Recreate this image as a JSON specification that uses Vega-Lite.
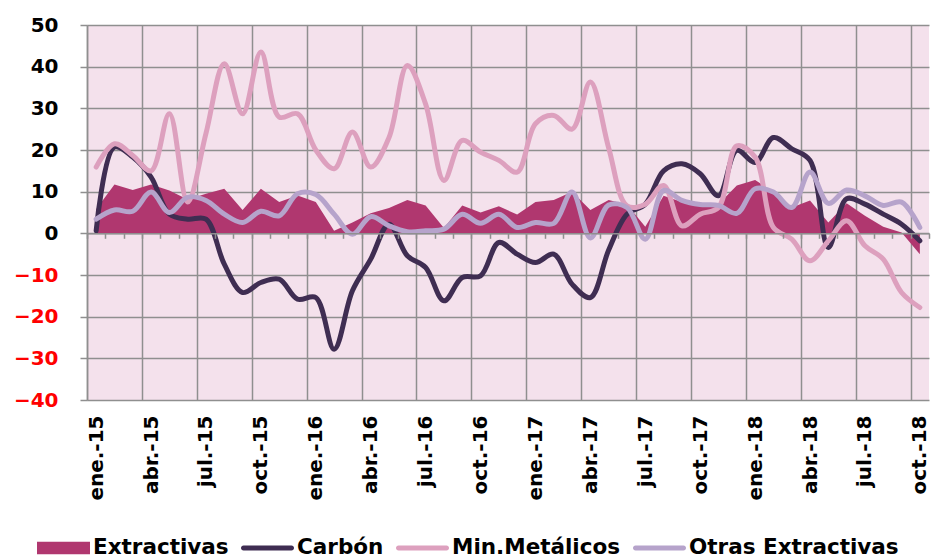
{
  "$schema": "https://vega.github.io/schema/vega-lite/v6.json",
  "autosize": "none",
  "width": 842,
  "height": 375,
  "padding": {"left": 87, "top": 25, "right": 10, "bottom": 159},
  "background": "white",
  "config": {
    "view": {"fill": "#F4E1EC", "stroke": null},
    "font": "DejaVu Sans",
    "axisY": {
      "title": null, "values": [-40,-30,-20,-10,0,10,20,30,40,50],
      "labelFont": "DejaVu Sans", "labelFontWeight": "bold", "labelFontSize": 20,
      "labelPadding": 22, "tickSize": 7, "tickColor": "#8F8F8F", "tickWidth": 1.5,
      "domain": true, "domainColor": "#8F8F8F", "domainWidth": 1.5,
      "grid": true, "gridColor": "#8F8F8F", "gridWidth": 1.5, "gridOpacity": 1,
      "labelFlush": false, "labelOverlap": false
    },
    "legend": {
      "title": null, "orient": "none", "legendX": -50, "legendY": 496.5, "direction": "horizontal", "columns": 4,
      "padding": 0, "columnPadding": 12, "labelOffset": 3, "symbolSize": 2809, "symbolStrokeWidth": 0,
      "labelFont": "DejaVu Sans", "labelFontWeight": "bold", "labelFontSize": 21.5, "labelColor": "#000000", "labelLimit": 400
    }
  },
  "data": {"values": [
    {"i":0,"serie":"Extractivas","valor":5.8},{"i":1,"serie":"Extractivas","valor":11.7},{"i":2,"serie":"Extractivas","valor":10.4},{"i":3,"serie":"Extractivas","valor":11.7},{"i":4,"serie":"Extractivas","valor":10.3},{"i":5,"serie":"Extractivas","valor":8.1},{"i":6,"serie":"Extractivas","valor":9.5},{"i":7,"serie":"Extractivas","valor":10.7},{"i":8,"serie":"Extractivas","valor":5.6},{"i":9,"serie":"Extractivas","valor":10.7},{"i":10,"serie":"Extractivas","valor":7.5},{"i":11,"serie":"Extractivas","valor":9.1},{"i":12,"serie":"Extractivas","valor":7.5},{"i":13,"serie":"Extractivas","valor":0.6},{"i":14,"serie":"Extractivas","valor":2.6},{"i":15,"serie":"Extractivas","valor":4.8},{"i":16,"serie":"Extractivas","valor":6.1},{"i":17,"serie":"Extractivas","valor":8.0},{"i":18,"serie":"Extractivas","valor":6.7},{"i":19,"serie":"Extractivas","valor":1.3},{"i":20,"serie":"Extractivas","valor":6.7},{"i":21,"serie":"Extractivas","valor":5.0},{"i":22,"serie":"Extractivas","valor":6.5},{"i":23,"serie":"Extractivas","valor":4.5},{"i":24,"serie":"Extractivas","valor":7.5},{"i":25,"serie":"Extractivas","valor":8.0},{"i":26,"serie":"Extractivas","valor":10.0},{"i":27,"serie":"Extractivas","valor":5.6},{"i":28,"serie":"Extractivas","valor":8.0},{"i":29,"serie":"Extractivas","valor":6.9},{"i":30,"serie":"Extractivas","valor":1.6},{"i":31,"serie":"Extractivas","valor":9.0},{"i":32,"serie":"Extractivas","valor":7.5},{"i":33,"serie":"Extractivas","valor":6.9},{"i":34,"serie":"Extractivas","valor":7.0},{"i":35,"serie":"Extractivas","valor":11.5},{"i":36,"serie":"Extractivas","valor":12.8},{"i":37,"serie":"Extractivas","valor":9.9},{"i":38,"serie":"Extractivas","valor":6.2},{"i":39,"serie":"Extractivas","valor":7.9},{"i":40,"serie":"Extractivas","valor":2.6},{"i":41,"serie":"Extractivas","valor":7.2},{"i":42,"serie":"Extractivas","valor":4.2},{"i":43,"serie":"Extractivas","valor":1.6},{"i":44,"serie":"Extractivas","valor":0.2},{"i":45,"serie":"Extractivas","valor":-5.0},
    {"i":0,"serie":"Carbón","valor":0.6},{"i":1,"serie":"Carbón","valor":20.7},{"i":2,"serie":"Carbón","valor":18.3},{"i":3,"serie":"Carbón","valor":13.5},{"i":4,"serie":"Carbón","valor":4.6},{"i":5,"serie":"Carbón","valor":3.4},{"i":6,"serie":"Carbón","valor":3.4},{"i":7,"serie":"Carbón","valor":-7.4},{"i":8,"serie":"Carbón","valor":-14.2},{"i":9,"serie":"Carbón","valor":-11.8},{"i":10,"serie":"Carbón","valor":-11.0},{"i":11,"serie":"Carbón","valor":-15.8},{"i":12,"serie":"Carbón","valor":-15.4},{"i":13,"serie":"Carbón","valor":-27.8},{"i":14,"serie":"Carbón","valor":-13.8},{"i":15,"serie":"Carbón","valor":-6.2},{"i":16,"serie":"Carbón","valor":2.2},{"i":17,"serie":"Carbón","valor":-5.4},{"i":18,"serie":"Carbón","valor":-8.2},{"i":19,"serie":"Carbón","valor":-16.2},{"i":20,"serie":"Carbón","valor":-10.6},{"i":21,"serie":"Carbón","valor":-10.2},{"i":22,"serie":"Carbón","valor":-2.2},{"i":23,"serie":"Carbón","valor":-5.0},{"i":24,"serie":"Carbón","valor":-7.0},{"i":25,"serie":"Carbón","valor":-5.0},{"i":26,"serie":"Carbón","valor":-12.2},{"i":27,"serie":"Carbón","valor":-15.4},{"i":28,"serie":"Carbón","valor":-4.0},{"i":29,"serie":"Carbón","valor":4.6},{"i":30,"serie":"Carbón","valor":7.0},{"i":31,"serie":"Carbón","valor":15.0},{"i":32,"serie":"Carbón","valor":16.7},{"i":33,"serie":"Carbón","valor":14.3},{"i":34,"serie":"Carbón","valor":9.0},{"i":35,"serie":"Carbón","valor":19.9},{"i":36,"serie":"Carbón","valor":17.0},{"i":37,"serie":"Carbón","valor":23.0},{"i":38,"serie":"Carbón","valor":20.3},{"i":39,"serie":"Carbón","valor":17.5},{"i":40,"serie":"Carbón","valor":-3.4},{"i":41,"serie":"Carbón","valor":8.3},{"i":42,"serie":"Carbón","valor":7.0},{"i":43,"serie":"Carbón","valor":4.6},{"i":44,"serie":"Carbón","valor":2.2},{"i":45,"serie":"Carbón","valor":-1.8},
    {"i":0,"serie":"Min.Metálicos","valor":15.9},{"i":1,"serie":"Min.Metálicos","valor":21.5},{"i":2,"serie":"Min.Metálicos","valor":18.7},{"i":3,"serie":"Min.Metálicos","valor":15.0},{"i":4,"serie":"Min.Metálicos","valor":28.7},{"i":5,"serie":"Min.Metálicos","valor":7.5},{"i":6,"serie":"Min.Metálicos","valor":24.0},{"i":7,"serie":"Min.Metálicos","valor":40.7},{"i":8,"serie":"Min.Metálicos","valor":28.7},{"i":9,"serie":"Min.Metálicos","valor":43.5},{"i":10,"serie":"Min.Metálicos","valor":27.9},{"i":11,"serie":"Min.Metálicos","valor":28.7},{"i":12,"serie":"Min.Metálicos","valor":20.0},{"i":13,"serie":"Min.Metálicos","valor":15.5},{"i":14,"serie":"Min.Metálicos","valor":24.3},{"i":15,"serie":"Min.Metálicos","valor":15.9},{"i":16,"serie":"Min.Metálicos","valor":23.0},{"i":17,"serie":"Min.Metálicos","valor":40.3},{"i":18,"serie":"Min.Metálicos","valor":31.0},{"i":19,"serie":"Min.Metálicos","valor":12.7},{"i":20,"serie":"Min.Metálicos","valor":22.3},{"i":21,"serie":"Min.Metálicos","valor":19.5},{"i":22,"serie":"Min.Metálicos","valor":17.5},{"i":23,"serie":"Min.Metálicos","valor":14.7},{"i":24,"serie":"Min.Metálicos","valor":26.3},{"i":25,"serie":"Min.Metálicos","valor":28.3},{"i":26,"serie":"Min.Metálicos","valor":25.0},{"i":27,"serie":"Min.Metálicos","valor":36.3},{"i":28,"serie":"Min.Metálicos","valor":20.5},{"i":29,"serie":"Min.Metálicos","valor":6.6},{"i":30,"serie":"Min.Metálicos","valor":7.0},{"i":31,"serie":"Min.Metálicos","valor":11.5},{"i":32,"serie":"Min.Metálicos","valor":1.8},{"i":33,"serie":"Min.Metálicos","valor":4.6},{"i":34,"serie":"Min.Metálicos","valor":6.2},{"i":35,"serie":"Min.Metálicos","valor":21.0},{"i":36,"serie":"Min.Metálicos","valor":18.3},{"i":37,"serie":"Min.Metálicos","valor":1.4},{"i":38,"serie":"Min.Metálicos","valor":-1.4},{"i":39,"serie":"Min.Metálicos","valor":-6.6},{"i":40,"serie":"Min.Metálicos","valor":-1.8},{"i":41,"serie":"Min.Metálicos","valor":3.0},{"i":42,"serie":"Min.Metálicos","valor":-3.0},{"i":43,"serie":"Min.Metálicos","valor":-6.2},{"i":44,"serie":"Min.Metálicos","valor":-14.2},{"i":45,"serie":"Min.Metálicos","valor":-17.8},
    {"i":0,"serie":"Otras Extractivas","valor":3.4},{"i":1,"serie":"Otras Extractivas","valor":5.6},{"i":2,"serie":"Otras Extractivas","valor":5.3},{"i":3,"serie":"Otras Extractivas","valor":9.9},{"i":4,"serie":"Otras Extractivas","valor":5.0},{"i":5,"serie":"Otras Extractivas","valor":8.7},{"i":6,"serie":"Otras Extractivas","valor":7.9},{"i":7,"serie":"Otras Extractivas","valor":4.6},{"i":8,"serie":"Otras Extractivas","valor":2.6},{"i":9,"serie":"Otras Extractivas","valor":5.3},{"i":10,"serie":"Otras Extractivas","valor":4.2},{"i":11,"serie":"Otras Extractivas","valor":9.5},{"i":12,"serie":"Otras Extractivas","valor":9.3},{"i":13,"serie":"Otras Extractivas","valor":4.6},{"i":14,"serie":"Otras Extractivas","valor":-0.2},{"i":15,"serie":"Otras Extractivas","valor":4.0},{"i":16,"serie":"Otras Extractivas","valor":1.8},{"i":17,"serie":"Otras Extractivas","valor":0.4},{"i":18,"serie":"Otras Extractivas","valor":0.6},{"i":19,"serie":"Otras Extractivas","valor":1.0},{"i":20,"serie":"Otras Extractivas","valor":4.6},{"i":21,"serie":"Otras Extractivas","valor":2.4},{"i":22,"serie":"Otras Extractivas","valor":4.6},{"i":23,"serie":"Otras Extractivas","valor":1.4},{"i":24,"serie":"Otras Extractivas","valor":2.6},{"i":25,"serie":"Otras Extractivas","valor":2.4},{"i":26,"serie":"Otras Extractivas","valor":9.9},{"i":27,"serie":"Otras Extractivas","valor":-1.1},{"i":28,"serie":"Otras Extractivas","valor":6.8},{"i":29,"serie":"Otras Extractivas","valor":6.2},{"i":30,"serie":"Otras Extractivas","valor":-1.4},{"i":31,"serie":"Otras Extractivas","valor":10.3},{"i":32,"serie":"Otras Extractivas","valor":7.9},{"i":33,"serie":"Otras Extractivas","valor":6.9},{"i":34,"serie":"Otras Extractivas","valor":6.7},{"i":35,"serie":"Otras Extractivas","valor":4.8},{"i":36,"serie":"Otras Extractivas","valor":10.7},{"i":37,"serie":"Otras Extractivas","valor":9.9},{"i":38,"serie":"Otras Extractivas","valor":6.2},{"i":39,"serie":"Otras Extractivas","valor":14.7},{"i":40,"serie":"Otras Extractivas","valor":7.2},{"i":41,"serie":"Otras Extractivas","valor":10.4},{"i":42,"serie":"Otras Extractivas","valor":9.0},{"i":43,"serie":"Otras Extractivas","valor":6.7},{"i":44,"serie":"Otras Extractivas","valor":7.5},{"i":45,"serie":"Otras Extractivas","valor":1.4}
  ]},
  "resolve": {"axis": {"x": "independent"}},
  "layer": [
    {
      "transform": [{"filter": "datum.serie === 'Extractivas'"}],
      "mark": {"type": "area", "interpolate": "linear"},
      "encoding": {
        "x": {
          "field": "i", "type": "quantitative",
          "scale": {"domain": [-0.5, 45.5], "nice": false, "zero": false},
          "axis": {
            "orient": "bottom", "title": null, "values": [0,3,6,9,12,15,18,21,24,27,30,33,36,39,42,45],
            "labelExpr": "['ene.','abr.','jul.','oct.'][floor((datum.value % 12) / 3)] + '-' + (15 + floor(datum.value / 12))",
            "labelAngle": -90, "labelFont": "DejaVu Sans", "labelFontWeight": "bold", "labelFontSize": 20,
            "labelColor": "#000000", "labelPadding": 15, "ticks": false, "tickSize": 0, "domain": false, "grid": false,
            "labelOverlap": false, "labelFlush": false, "labelBound": false
          }
        },
        "y": {
          "field": "valor", "type": "quantitative",
          "scale": {"domain": [-40, 50], "nice": false, "zero": false},
          "axis": {"labelColor": {"expr": "datum.value < 0 ? '#FF0000' : '#000000'"}}
        },
        "color": {
          "field": "serie", "type": "nominal",
          "scale": {"domain": ["Extractivas", "Carbón", "Min.Metálicos", "Otras Extractivas"], "range": ["#B0376F", "#3F2D52", "#DDA0BE", "#B6A3CB"]},
          "legend": {
            "encode": {"symbols": {"update": {
              "shape": {"signal": "datum.value === 'Extractivas' ? 'M-1,-0.238H1V0.238H-1Z' : 'M-0.906,-0.094H0.906A0.094,0.094,0,0,1,0.906,0.094H-0.906A0.094,0.094,0,0,1,-0.906,-0.094Z'"},
              "fill": {"scale": "color", "field": "value"},
              "stroke": {"value": "transparent"},
              "opacity": {"value": 1}
            }}}
          }
        }
      }
    },
    {
      "transform": [{"filter": "datum.serie !== 'Extractivas'"}],
      "mark": {"type": "line", "interpolate": "catmull-rom", "strokeWidth": 5, "strokeCap": "round", "strokeJoin": "round"},
      "encoding": {
        "x": {
          "field": "i", "type": "quantitative",
          "axis": {
            "orient": "top", "title": null, "values": [-0.5,2.5,5.5,8.5,11.5,14.5,17.5,20.5,23.5,26.5,29.5,32.5,35.5,38.5,41.5,44.5],
            "labels": false, "ticks": false, "domain": false, "grid": true, "gridColor": "#8F8F8F", "gridWidth": 1.5, "gridOpacity": 1
          }
        },
        "y": {"field": "valor", "type": "quantitative", "axis": {"labelColor": {"expr": "datum.value < 0 ? '#FF0000' : '#000000'"}}},
        "color": {
          "field": "serie", "type": "nominal",
          "legend": {
            "encode": {"symbols": {"update": {
              "shape": {"signal": "datum.value === 'Extractivas' ? 'M-1,-0.238H1V0.238H-1Z' : 'M-0.906,-0.094H0.906A0.094,0.094,0,0,1,0.906,0.094H-0.906A0.094,0.094,0,0,1,-0.906,-0.094Z'"},
              "fill": {"scale": "color", "field": "value"},
              "stroke": {"value": "transparent"},
              "opacity": {"value": 1}
            }}}
          }
        }
      }
    },
    {
      "transform": [{"filter": "datum.serie === 'Extractivas'"}],
      "mark": {"type": "point", "opacity": 0},
      "encoding": {
        "x": {
          "field": "i", "type": "quantitative",
          "axis": {
            "orient": "bottom", "offset": -166.7, "title": null,
            "values": [-0.5,0.5,1.5,2.5,3.5,4.5,5.5,6.5,7.5,8.5,9.5,10.5,11.5,12.5,13.5,14.5,15.5,16.5,17.5,18.5,19.5,20.5,21.5,22.5,23.5,24.5,25.5,26.5,27.5,28.5,29.5,30.5,31.5,32.5,33.5,34.5,35.5,36.5,37.5,38.5,39.5,40.5,41.5,42.5,43.5,44.5,45.5],
            "labels": false, "ticks": true, "tickSize": 5, "tickColor": "#8F8F8F", "tickWidth": 1.5,
            "domain": true, "domainColor": "#8F8F8F", "domainWidth": 1.5, "grid": false, "zindex": 1
          }
        },
        "y": {"field": "valor", "type": "quantitative", "axis": {"labelColor": {"expr": "datum.value < 0 ? '#FF0000' : '#000000'"}}}
      }
    }
  ]
}
